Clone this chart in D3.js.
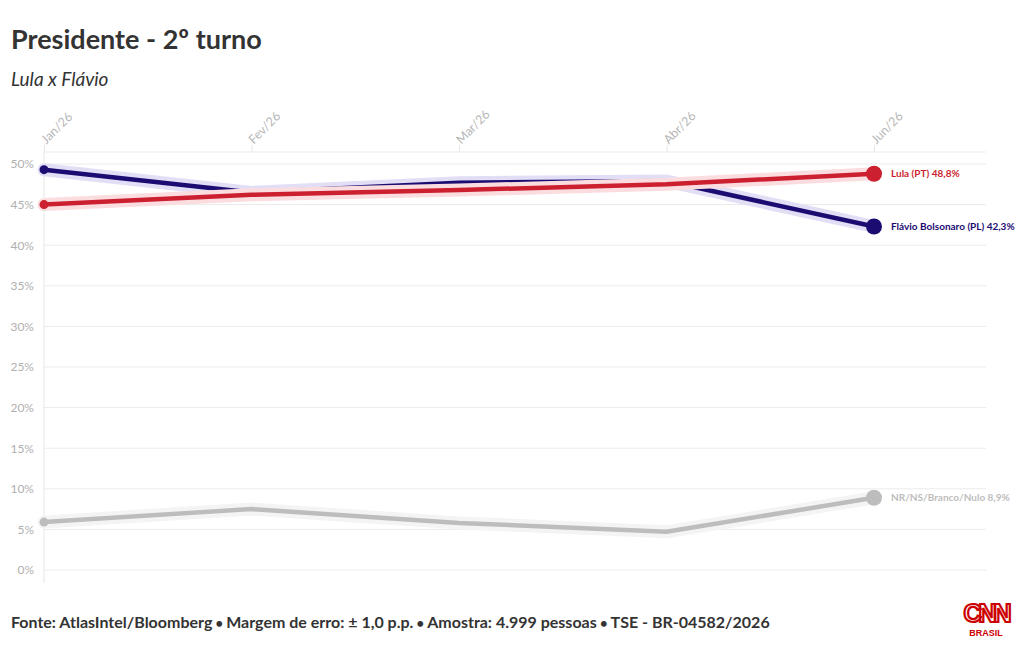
<!DOCTYPE html>
<html>
<head>
<meta charset="utf-8">
<script src="https://cdn.jsdelivr.net/npm/d3@7"></script>
<style>
  body { margin: 0; background: #fff; }
  svg { display: block; font-family: Lato, "Noto Sans", sans-serif; }
</style>
</head>
<body>
<script>
var months = ["Jan/26", "Fev/26", "Mar/26", "Abr/26", "Jun/26"]
var flavio = [49.3, 46.5, 47.7, 47.9, 42.3]
var lula = [45.0, 46.2, 46.8, 47.5, 48.8]
var outros = [5.9, 7.5, 5.8, 4.7, 8.9]
var yTicks = [0, 5, 10, 15, 20, 25, 30, 35, 40, 45, 50]
var footerParts = ["Fonte: AtlasIntel/Bloomberg", "Margem de erro: ± 1,0 p.p.", "Amostra: 4.999 pessoas", "TSE - BR-04582/2026"]

var series = [
    { name: "NR/NS/Branco/Nulo", values: outros, color: "#bdbdbd", halo: "#f4f4f4", label: "#bdbdbd" },
    { name: "Flávio Bolsonaro (PL)", values: flavio, color: "#1b0c72", halo: "#e2def6", label: "#1b0c72" },
    { name: "Lula (PT)", values: lula, color: "#cc1f2f", halo: "#fbdde0", label: "#cc1f2f" }
]

var width = 1020, height = 650

var svg = d3.select("body")
    .append("svg")
    .attr("width", width)
    .attr("height", height)

var x = d3.scalePoint().domain(months).range([44, 874])
var y = d3.scaleLinear().domain([0, 50]).range([570, 164])

// title
svg.append("text")
    .attr("x", 11).attr("y", 49)
    .attr("font-size", 27).attr("font-weight", 700)
    .attr("fill", "#333")
    .text("Presidente - 2º turno")

svg.append("text")
    .attr("x", 11).attr("y", 86)
    .attr("font-size", 19).attr("font-style", "italic")
    .attr("fill", "#333")
    .text("Lula x Flávio")

// grid
svg.append("g")
    .selectAll("line")
    .data(yTicks)
    .enter().append("line")
    .attr("x1", 44).attr("x2", 986)
    .attr("y1", function (d) { return y(d) })
    .attr("y2", function (d) { return y(d) })
    .attr("stroke", "#ebebeb")

svg.append("line")
    .attr("x1", 44).attr("x2", 986)
    .attr("y1", 152).attr("y2", 152)
    .attr("stroke", "#ebebeb")

svg.append("line")
    .attr("x1", 44).attr("x2", 44)
    .attr("y1", 152).attr("y2", 583)
    .attr("stroke", "#e6e6e6")

// y axis labels
var yAxis = d3.axisLeft(y)
    .tickValues(yTicks)
    .tickSize(0)
    .tickPadding(10)
    .tickFormat(function (d) { return d + "%" })

var gy = svg.append("g")
    .attr("transform", "translate(44,0)")
    .call(yAxis)
gy.select(".domain").remove()
gy.selectAll("text")
    .attr("font-family", "Lato, sans-serif")
    .attr("font-size", 12)
    .attr("fill", "#b0b0b0")

// x axis on top
var xAxis = d3.axisTop(x).tickSize(7).tickPadding(3)
var gx = svg.append("g")
    .attr("transform", "translate(0,152)")
    .call(xAxis)
gx.select(".domain").remove()
gx.selectAll("line").attr("stroke", "#e6e6e6")
gx.selectAll("text")
    .attr("font-family", "Lato, sans-serif")
    .attr("font-size", 12.5)
    .attr("fill", "#b8b8b8")
    .attr("text-anchor", "start")
    .attr("transform", "translate(-1,-10) rotate(-45)")
    .attr("dy", "0.3em")
    .attr("x", 0).attr("y", 0)

var line = d3.line()
    .x(function (d, i) { return x(months[i]) })
    .y(function (d) { return y(d) })

series.forEach(function (s) {
    var g = svg.append("g")
    g.append("path")
        .attr("d", line(s.values))
        .attr("fill", "none")
        .attr("stroke", s.halo)
        .attr("stroke-width", 13)
        .attr("stroke-linejoin", "round")
        .attr("stroke-linecap", "round")
    g.append("path")
        .attr("d", line(s.values))
        .attr("fill", "none")
        .attr("stroke", s.color)
        .attr("stroke-width", 4.5)
        .attr("stroke-linejoin", "round")
    g.append("circle")
        .attr("cx", x(months[0]))
        .attr("cy", y(s.values[0]))
        .attr("r", 4.5)
        .attr("fill", s.color)
    var last = s.values.length - 1
    g.append("circle")
        .attr("cx", x(months[last]))
        .attr("cy", y(s.values[last]))
        .attr("r", 8)
        .attr("fill", s.color)
    g.append("text")
        .attr("x", x(months[last]) + 17)
        .attr("y", y(s.values[last]))
        .attr("dy", "0.35em")
        .attr("font-size", 10)
        .attr("font-weight", 700)
        .attr("fill", s.label)
        .text(s.name + " " + String(s.values[last]).replace(".", ",") + "%")
})

// footer
var footer = svg.append("text")
    .attr("x", 11).attr("y", 628)
    .attr("font-size", 16).attr("font-weight", 700)
    .attr("fill", "#333")
footerParts.forEach(function (p, i) {
    if (i > 0) {
        footer.append("tspan").attr("font-size", 13).text(" • ")
    }
    footer.append("tspan").text(p)
})

// logo
var logo = svg.append("g").attr("transform", "translate(986,0)")
logo.append("text")
    .attr("x", 0).attr("y", 622)
    .attr("text-anchor", "middle")
    .attr("font-family", "'Liberation Sans', Arial, sans-serif")
    .attr("font-size", 25).attr("font-weight", 700)
    .attr("fill", "none")
    .attr("stroke", "#cc0000").attr("stroke-width", 2.2)
    .attr("letter-spacing", -3)
    .text("CNN")
logo.append("text")
    .attr("x", 0).attr("y", 636)
    .attr("text-anchor", "middle")
    .attr("font-family", "'Liberation Sans', Arial, sans-serif")
    .attr("font-size", 9).attr("font-weight", 700)
    .attr("fill", "#cc0000")
    .text("BRASIL")
</script>
</body>
</html>
